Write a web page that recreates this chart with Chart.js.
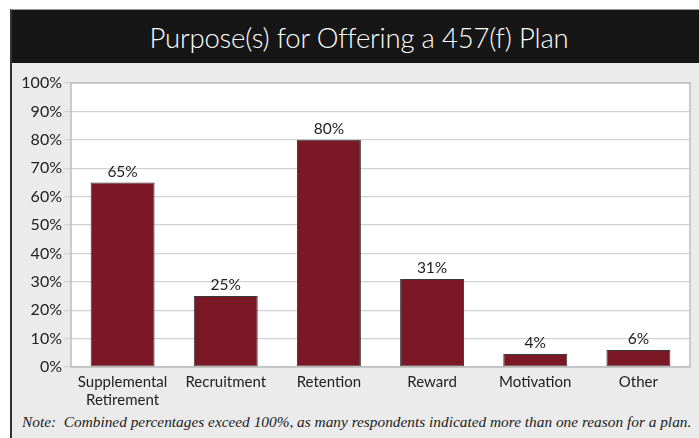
<!DOCTYPE html>
<html><head><meta charset="utf-8">
<script src="https://cdn.jsdelivr.net/npm/chart.js@4"></script>
<style>
html,body{margin:0;padding:0;background:#fff;width:699px;height:438px;overflow:hidden;}
#frame{position:absolute;left:10px;top:9px;width:689px;height:429px;border-top:1px solid #9a9a9a;border-left:2px solid #333;box-sizing:border-box;background:#ebebeb;}
#title{position:absolute;left:0;top:0;width:694px;height:53px;background:#161616;color:#fff;font-family:Lato,"Open Sans",sans-serif;font-weight:300;font-size:27.5px;line-height:55px;text-align:center;letter-spacing:-0.2px;}
#wrap{position:absolute;left:0;top:53px;width:687px;height:345px;}
#note{position:absolute;left:10px;top:403px;font-family:"Liberation Serif","DejaVu Serif",serif;font-style:italic;font-size:15.35px;color:#222;white-space:nowrap;}
</style></head>
<body>
<div id="frame">
  <div id="title">Purpose(s) for Offering a 457(f) Plan</div>
  <div id="wrap"><canvas id="c" width="687" height="345"></canvas></div>
  <div id="note">Note:&nbsp; Combined percentages exceed 100%, as many respondents indicated more than one reason for a plan.</div>
</div>
<script>
const categories = [["Supplemental","Retirement"],"Recruitment","Retention","Reward","Motivation","Other"];
const values = [65, 25, 80, 31, 4.6, 6];
const valueLabels = ["65%","25%","80%","31%","4%","6%"];
const yTicks = [0,10,20,30,40,50,60,70,80,90,100];

const areaPlugin = {
  id:'area',
  beforeDraw(chart){
    const {ctx, chartArea:a} = chart;
    ctx.save();
    ctx.fillStyle='#fff';
    ctx.fillRect(a.left,a.top,a.right-a.left,a.bottom-a.top);
    ctx.restore();
  },
  afterDatasetsDraw(chart){
    const {ctx, chartArea:a} = chart;
    ctx.save();
    ctx.strokeStyle='#bdbdbd';ctx.lineWidth=1.5;
    ctx.strokeRect(a.left,a.top,a.right-a.left,a.bottom-a.top);
    const meta = chart.getDatasetMeta(0);
    ctx.fillStyle='#222';
    ctx.font='15.5px Lato, "Open Sans", sans-serif';
    ctx.textAlign='center';ctx.textBaseline='bottom';
    meta.data.forEach((bar,i)=>{
      ctx.fillText(valueLabels[i], bar.x, bar.y-3);
    });
    ctx.restore();
  }
};

new Chart(document.getElementById('c'),{
  type:'bar',
  data:{labels:categories,datasets:[{data:values,backgroundColor:'#7a1826',borderColor:'#3a3a3a',borderWidth:1,borderSkipped:false,categoryPercentage:1,barPercentage:0.62}]},
  options:{
    responsive:false,animation:false,
    layout:{padding:{top:20,right:9,left:0,bottom:0}},
    plugins:{legend:{display:false},tooltip:{enabled:false}},
    scales:{
      x:{
        grid:{display:false,drawTicks:false},
        border:{display:false},
        ticks:{color:'#222',font:{family:'Lato, "Open Sans", sans-serif',size:15},padding:6,maxRotation:0,autoSkip:false},
        afterFit(s){s.height=41;}
      },
      y:{
        min:0,max:100,
        afterBuildTicks(s){s.ticks=yTicks.map(v=>({value:v}));},
        grid:{color:'#d2d2d2',lineWidth:1.2,tickLength:7},
        border:{display:false},
        ticks:{color:'#222',font:{family:'Lato, "Open Sans", sans-serif',size:16},padding:2,callback:v=>v+'%'},
        afterFit(s){s.width=59;}
      }
    }
  },
  plugins:[areaPlugin]
});
</script>
</body></html>
